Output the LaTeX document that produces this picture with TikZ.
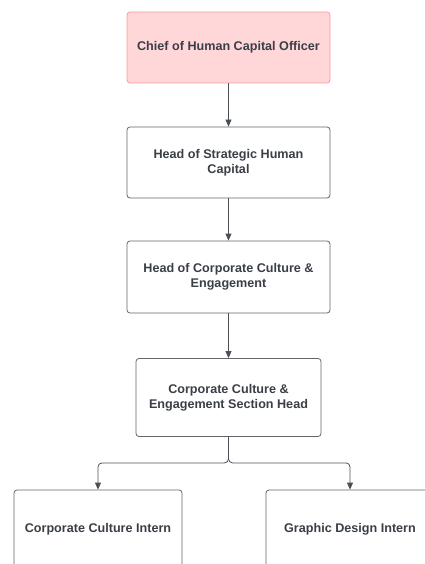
\documentclass[tikz,border=0pt]{standalone}
\usepackage{fontspec}
\setmainfont{Liberation Sans}
\usetikzlibrary{arrows.meta}
\definecolor{txt}{HTML}{3A3F47}
\definecolor{edgec}{HTML}{62656B}
\definecolor{arrc}{HTML}{4B4F56}
\definecolor{pinkfill}{HTML}{FFD7D9}
\definecolor{pinkedge}{HTML}{F59C9E}
\begin{document}
\begin{tikzpicture}[x=1pt,y=-1pt,
  box/.style={draw=edgec, line width=0.8pt, rounded corners=3pt, fill=white,
    align=center, text=txt, inner sep=2pt,
    font=\fontsize{12.6}{15}\selectfont\bfseries},
  topbox/.style={box, draw=pinkedge, fill=pinkfill},
  arr/.style={draw=arrc, line width=0.8pt, -{Triangle[length=7pt,width=6pt]}}]
\useasboundingbox (0,0) rectangle (425,564);
\clip (0,0) rectangle (425,564);
\node[topbox, minimum width=203pt, minimum height=71pt] (a) at (228.5,47.5) {Chief of Human Capital Officer};
\node[box, minimum width=203pt, minimum height=71pt] (b) at (228.5,162.5) {Head of Strategic Human\\Capital};
\node[box, minimum width=203pt, minimum height=72pt] (c) at (228.5,277) {Head of Corporate Culture \&\\Engagement};
\node[box, minimum width=185pt, minimum height=78pt] (d) at (228.5,397.5) {Corporate Culture \&\\Engagement Section Head};
\node[box, minimum width=168pt, minimum height=78pt] (e) at (98,529) {Corporate Culture Intern};
\node[box, minimum width=168pt, minimum height=78pt] (f) at (350,529) {Graphic Design Intern};
\draw[arr] (a) -- (b);
\draw[arr] (b) -- (c);
\draw[arr] (c) -- (d);
\draw[arr, rounded corners=4pt] (d.south) -- ++(0,26) -| (e.north);
\draw[arr, rounded corners=4pt] (d.south) -- ++(0,26) -| (f.north);
\end{tikzpicture}
\end{document}
